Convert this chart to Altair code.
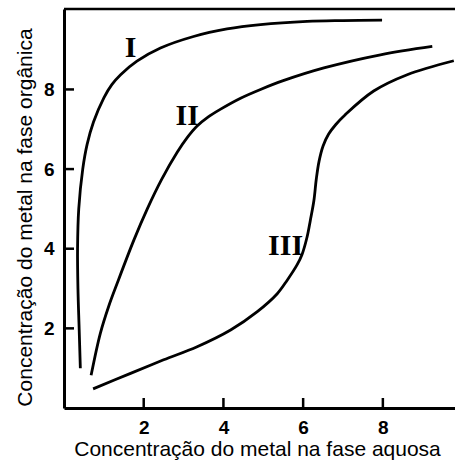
import altair as alt
import pandas as pd

# Curve I
i_x = [0.41, 0.38, 0.35, 0.34, 0.37, 0.47, 0.58, 0.74, 1.00, 1.20, 1.42, 1.83, 2.42, 3.25, 4.09, 4.93, 6.10, 7.00, 7.98]
i_y = [1.00, 2.00, 3.00, 4.00, 5.00, 6.00, 6.62, 7.18, 7.79, 8.12, 8.37, 8.71, 9.04, 9.33, 9.52, 9.63, 9.71, 9.73, 9.74]
# Curve II
ii_x = [0.68, 0.91, 1.12, 1.33, 1.75, 2.09, 2.45, 2.84, 3.10, 3.34, 3.62, 3.92, 4.43, 4.93, 5.50, 6.52, 7.94, 9.24]
ii_y = [0.82, 1.87, 2.55, 3.12, 4.21, 5.00, 5.74, 6.42, 6.80, 7.08, 7.31, 7.50, 7.78, 8.00, 8.22, 8.54, 8.87, 9.08]
# Curve III
iii_x = [0.73, 1.67, 2.50, 3.34, 4.18, 4.85, 5.35, 5.60, 5.85, 5.97, 6.10, 6.18, 6.27, 6.33, 6.40, 6.50, 6.64, 6.82, 7.05, 7.77, 8.61, 9.78]
iii_y = [0.48, 0.87, 1.21, 1.54, 1.96, 2.42, 2.87, 3.21, 3.60, 3.85, 4.30, 4.71, 5.21, 5.75, 6.20, 6.58, 6.88, 7.12, 7.36, 7.96, 8.37, 8.72]

label_text = ["I", "II", "III"]
label_x = [1.67, 3.09, 5.56]
label_y = [9.04, 7.33, 4.08]

x_ticks = [2, 4, 6, 8]
y_ticks = [2, 4, 6, 8]

W, H = 391, 399
XDOM = [0, 9.81]
YDOM = [0, 10.02]

rows = []
for name, xs_, ys_ in [("I", i_x, i_y), ("II", ii_x, ii_y), ("III", iii_x, iii_y)]:
    for k, (a, b) in enumerate(zip(xs_, ys_)):
        rows.append({"curve": name, "i": k, "x": a, "y": b})
curves = pd.DataFrame(rows)

xs = alt.Scale(domain=XDOM, nice=False, zero=False)
ys = alt.Scale(domain=YDOM, nice=False, zero=False)

xaxis = alt.Axis(
    values=x_ticks, tickSize=0, grid=False, domainWidth=3, domainColor="black",
    labelFont="Liberation Sans", labelFontSize=19, labelFontWeight="bold", labelColor="black",
    labelPadding=25, labelBaseline="alphabetic",
    title="Concentração do metal na fase aquosa", titleFont="Liberation Sans",
    titleFontSize=21, titleFontWeight="normal", titleColor="black",
    titleX=193, titleY=47, titleBaseline="alphabetic", titleAnchor="middle", titleAlign="center",
)
yaxis = alt.Axis(
    values=y_ticks, tickSize=0, grid=False, domainWidth=3, domainColor="black",
    labelFont="Liberation Sans", labelFontSize=19, labelFontWeight="bold", labelColor="black",
    labelPadding=10, labelBaseline="middle",
    title="Concentração do metal na fase orgânica", titleFont="Liberation Sans",
    titleFontSize=21, titleFontWeight="normal", titleColor="black",
    titleX=-33, titleY=208, titleBaseline="alphabetic", titleAngle=-90, titleAlign="center",
)

lines = alt.Chart(curves).mark_line(
    color="black", strokeWidth=2.8, interpolate="catmull-rom", clip=True
).encode(
    x=alt.X("x:Q", scale=xs, axis=xaxis),
    y=alt.Y("y:Q", scale=ys, axis=yaxis),
    detail="curve:N",
    order="i:Q",
)

xt = alt.Chart(pd.DataFrame({"v": x_ticks})).mark_rule(color="black", strokeWidth=2.5).encode(
    x=alt.X("v:Q", scale=xs), y=alt.value(H), y2=alt.value(H - 10)
)
yt = alt.Chart(pd.DataFrame({"v": y_ticks})).mark_rule(color="black", strokeWidth=2.5).encode(
    y=alt.Y("v:Q", scale=ys), x=alt.value(0), x2=alt.value(10)
)
top = alt.Chart(pd.DataFrame({"a": [0]})).mark_rule(color="black", strokeWidth=2.5).encode(
    y=alt.value(0), x=alt.value(0), x2=alt.value(W)
)

labels = alt.Chart(pd.DataFrame({"t": label_text, "x": label_x, "y": label_y})).mark_text(
    font="Liberation Serif", fontSize=30, fontWeight="bold", color="black", align="center", baseline="middle"
).encode(
    x=alt.X("x:Q", scale=xs), y=alt.Y("y:Q", scale=ys), text="t:N"
)

chart = alt.layer(lines, xt, yt, top, labels).properties(
    width=W, height=H,
    autosize=alt.AutoSizeParams(type="none"),
    padding={"left": 64, "top": 9, "right": 0, "bottom": 53},
).configure_view(stroke=None).configure(background="white")

chart.save("out.html", embed_options={"renderer": "svg", "actions": False})
